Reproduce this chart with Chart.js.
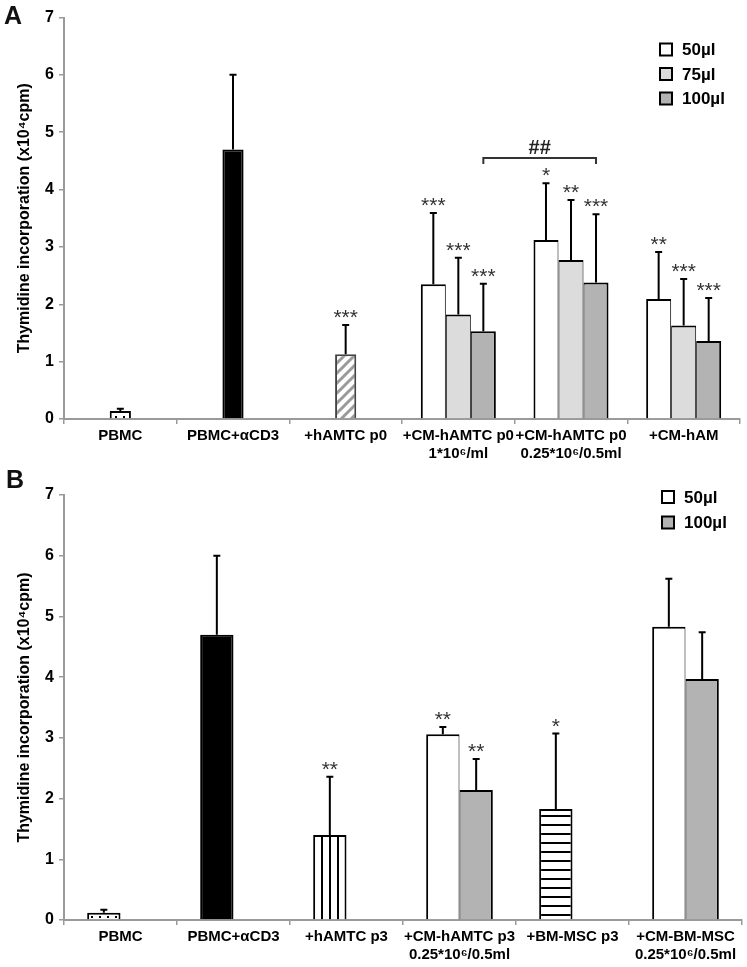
<!DOCTYPE html>
<html>
<head>
<meta charset="utf-8">
<script src="https://cdn.jsdelivr.net/npm/chart.js@4.4.0/dist/chart.umd.min.js"></script>
<style>
  body { margin: 0; background: #fff; font-family: "Liberation Sans", Arial, sans-serif; }
  .wrap { position: relative; width: 747px; height: 967px; }
  .panel { position: absolute; left: 0; width: 747px; }
  .letter { position: absolute; font-weight: bold; font-size: 25px; color: #111; }
</style>
</head>
<body>
<div class="wrap">
  <div class="panel" style="top:0;height:470px"><canvas id="chartA"></canvas></div>
  <div class="panel" style="top:470px;height:497px"><canvas id="chartB"></canvas></div>
  <div class="letter" style="left:4px;top:1px">A</div>
  <div class="letter" style="left:6px;top:465px">B</div>
</div>
<script>
// Panel A data
var categoriesA = ["PBMC", "PBMC+αCD3", "+hAMTC p0", ["+CM-hAMTC p0", "1*10⁶/ml"], ["+CM-hAMTC p0", "0.25*10⁶/0.5ml"], "+CM-hAM"];
var singleA = [0.14, 4.7, 1.13, null, null, null];
var singleErrA = [0.04, 1.3, 0.51, null, null, null];
var singleStarsA = ["", "", "***", "", "", ""];
var ul50A = [null, null, null, 2.35, 3.12, 2.09];
var ul50ErrA = [null, null, null, 1.24, 0.99, 0.82];
var ul50StarsA = ["", "", "", "***", "*", "**"];
var ul75A = [null, null, null, 1.82, 2.77, 1.63];
var ul75ErrA = [null, null, null, 0.99, 1.05, 0.81];
var ul75StarsA = ["", "", "", "***", "**", "***"];
var ul100A = [null, null, null, 1.53, 2.38, 1.36];
var ul100ErrA = [null, null, null, 0.83, 1.19, 0.75];
var ul100StarsA = ["", "", "", "***", "***", "***"];

// Panel B data
var categoriesB = ["PBMC", "PBMC+αCD3", "+hAMTC p3", ["+CM-hAMTC p3", "0.25*10⁶/0.5ml"], "+BM-MSC p3", ["+CM-BM-MSC", "0.25*10⁶/0.5ml"]];
var singleB = [0.12, 4.7, 1.4, null, 1.83, null];
var singleErrB = [0.05, 1.3, 0.96, null, 1.24, null];
var singleStarsB = ["", "", "**", "", "*", ""];
var ul50B = [null, null, null, 3.06, null, 4.83];
var ul50ErrB = [null, null, null, 0.12, null, 0.79];
var ul50StarsB = ["", "", "", "**", "", ""];
var ul100B = [null, null, null, 2.14, null, 3.97];
var ul100ErrB = [null, null, null, 0.51, null, 0.77];
var ul100StarsB = ["", "", "", "**", "", ""];

var yTicks = [0, 7];
var yTitle = "Thymidine incorporation (x10⁴cpm)";
var font = '"Liberation Sans", Arial, sans-serif';

// fill patterns
function pattern(w, h, draw) {
  var c = document.createElement("canvas");
  c.width = w; c.height = h;
  var g = c.getContext("2d");
  g.fillStyle = "#fff";
  g.fillRect(0, 0, w, h);
  draw(g);
  return g.createPattern(c, "repeat");
}
var patDots = pattern(8, 6, function (g) { g.fillStyle = "#000"; g.fillRect(3, 2, 2, 2); });
var patDiag = pattern(10, 10, function (g) {
  g.strokeStyle = "#9a9a9a"; g.lineWidth = 3;
  g.beginPath();
  g.moveTo(-2, 12); g.lineTo(12, -2);
  g.moveTo(-7, 7); g.lineTo(7, -7);
  g.moveTo(3, 17); g.lineTo(17, 3);
  g.stroke();
});
var patVert = pattern(8, 8, function (g) { g.fillStyle = "#000"; g.fillRect(1, 0, 2, 8); });
var patHorz = pattern(8, 9, function (g) { g.fillStyle = "#000"; g.fillRect(0, 3, 8, 2); });

var annotate = {
  id: "annotate",
  afterDatasetsDraw: function (chart, args, opts) {
    var ctx = chart.ctx;
    var y = chart.scales.y;
    ctx.save();
    chart.data.datasets.forEach(function (ds, di) {
      var meta = chart.getDatasetMeta(di);
      meta.data.forEach(function (bar, i) {
        var v = ds.data[i];
        if (v == null) return;
        var top = y.getPixelForValue(v + ds.errors[i]);
        ctx.strokeStyle = "#000";
        ctx.lineWidth = 2;
        ctx.beginPath();
        ctx.moveTo(bar.x, bar.y);
        ctx.lineTo(bar.x, top);
        ctx.moveTo(bar.x - 3.5, top);
        ctx.lineTo(bar.x + 3.5, top);
        ctx.stroke();
        if (ds.stars[i]) {
          ctx.fillStyle = "#333";
          ctx.font = "21px " + font;
          ctx.textAlign = "center";
          ctx.textBaseline = "alphabetic";
          ctx.fillText(ds.stars[i], bar.x, top - 1);
        }
      });
    });

    if (opts.bracket) {
      var b = opts.bracket;
      var m = chart.getDatasetMeta(b.dataset);
      var x1 = m.data[b.from].x, x2 = m.data[b.to].x;
      var by = y.getPixelForValue(b.value);
      ctx.strokeStyle = "#333";
      ctx.lineWidth = 2;
      ctx.beginPath();
      ctx.moveTo(x1, by + 6); ctx.lineTo(x1, by); ctx.lineTo(x2, by); ctx.lineTo(x2, by + 6);
      ctx.stroke();
      ctx.fillStyle = "#222";
      ctx.font = "bold 20px " + font;
      ctx.textAlign = "center";
      ctx.textBaseline = "alphabetic";
      ctx.fillText(b.label, (x1 + x2) / 2, by - 4);
    }

    var lg = opts.legend;
    lg.items.forEach(function (di, k) {
      var ds = chart.data.datasets[di];
      var cy = lg.y + k * lg.gap;
      ctx.fillStyle = ds.backgroundColor;
      ctx.fillRect(lg.x, cy - 6, 12, 12);
      ctx.strokeStyle = "#000";
      ctx.lineWidth = 2;
      ctx.strokeRect(lg.x, cy - 6, 12, 12);
      ctx.fillStyle = "#000";
      ctx.font = "bold 17px " + font;
      ctx.textAlign = "left";
      ctx.textBaseline = "middle";
      ctx.fillText(ds.label, lg.x + 22, cy + 1);
    });
    ctx.restore();
  }
};

function yAxis() {
  return {
    min: yTicks[0],
    max: yTicks[1],
    stacked: false,
    ticks: { stepSize: 1, color: "#000", padding: 5, font: { family: font, size: 16, weight: "bold" } },
    grid: { drawOnChartArea: false, color: "#9a9a9a", lineWidth: 1.5, tickLength: 5 },
    border: { color: "#9a9a9a", width: 2 },
    title: { display: true, text: yTitle, color: "#000", padding: { top: 15, bottom: 0 }, font: { family: font, size: 16, weight: "bold" } },
    afterFit: function (scale) { scale.width = 64; }
  };
}

function xAxis(h, stacked) {
  return {
    offset: true,
    stacked: stacked,
    ticks: { color: "#000", padding: 3, autoSkip: false, maxRotation: 0, minRotation: 0, font: { family: font, size: 15, weight: "bold" } },
    grid: { offset: true, drawOnChartArea: false, color: "#9a9a9a", lineWidth: 1.5, tickLength: 5 },
    border: { color: "#9a9a9a", width: 2 },
    afterFit: function (scale) { scale.height = h; }
  };
}

new Chart(document.getElementById("chartA"), {
  type: "bar",
  data: {
    labels: categoriesA,
    datasets: [{
      label: "single",
      data: singleA, errors: singleErrA, stars: singleStarsA,
      grouped: false,
      barPercentage: 0.235,
      backgroundColor: [patDots, "#000", patDiag, "#fff", "#fff", "#fff"],
      borderColor: ["#000", "#000", "#444", "#000", "#000", "#000"],
      borderWidth: 2,
    }, {
      label: "50µl",
      data: ul50A, errors: ul50ErrA, stars: ul50StarsA,
      backgroundColor: "#fff",
      borderColor: "#000",
      borderWidth: { top: 2, left: 2, right: 1, bottom: 0 },
      categoryPercentage: 0.666, barPercentage: 1,
    }, {
      label: "75µl",
      data: ul75A, errors: ul75ErrA, stars: ul75StarsA,
      backgroundColor: "#dcdcdc",
      borderColor: "#000",
      borderWidth: { top: 2, left: 1, right: 1, bottom: 0 },
      categoryPercentage: 0.666, barPercentage: 1,
    }, {
      label: "100µl",
      data: ul100A, errors: ul100ErrA, stars: ul100StarsA,
      backgroundColor: "#b3b3b3",
      borderColor: "#000",
      borderWidth: { top: 2, left: 1, right: 2, bottom: 0 },
      categoryPercentage: 0.666, barPercentage: 1,
    }],
  },
  options: {
    responsive: true,
    maintainAspectRatio: false,
    animation: false,
    layout: { padding: { top: 17.5, right: 7, left: 0, bottom: 0 } },
    plugins: {
      legend: { display: false },
      tooltip: { enabled: false },
      annotate: {
        legend: { items: [1, 2, 3], x: 660, y: 49.5, gap: 24.5 },
        bracket: { dataset: 3, from: 3, to: 4, value: 4.55, label: "##" },
      },
    },
    scales: { x: xAxis(51, false), y: yAxis() },
  },
  plugins: [annotate],
});

new Chart(document.getElementById("chartB"), {
  type: "bar",
  data: {
    labels: categoriesB,
    datasets: [{
      label: "single",
      data: singleB, errors: singleErrB, stars: singleStarsB,
      stack: "a",
      backgroundColor: [patDots, "#000", patVert, "#fff", patHorz, "#fff"],
      borderColor: "#000",
      borderWidth: 2,
      categoryPercentage: 0.59, barPercentage: 1,
    }, {
      label: "50µl",
      data: ul50B, errors: ul50ErrB, stars: ul50StarsB,
      stack: "a",
      backgroundColor: "#fff",
      borderColor: "#000",
      borderWidth: { top: 2, left: 2, right: 1, bottom: 0 },
      categoryPercentage: 0.59, barPercentage: 1,
    }, {
      label: "100µl",
      data: ul100B, errors: ul100ErrB, stars: ul100StarsB,
      stack: "b",
      backgroundColor: "#b3b3b3",
      borderColor: "#000",
      borderWidth: { top: 2, left: 1, right: 2, bottom: 0 },
      categoryPercentage: 0.59, barPercentage: 1,
    }],
  },
  options: {
    responsive: true,
    maintainAspectRatio: false,
    animation: false,
    layout: { padding: { top: 25, right: 5, left: 0, bottom: 0 } },
    plugins: {
      legend: { display: false },
      tooltip: { enabled: false },
      annotate: {
        legend: { items: [1, 2], x: 662, y: 27, gap: 25.5 },
      },
    },
    scales: { x: xAxis(47, true), y: yAxis() },
  },
  plugins: [annotate],
});
</script>
</body>
</html>
